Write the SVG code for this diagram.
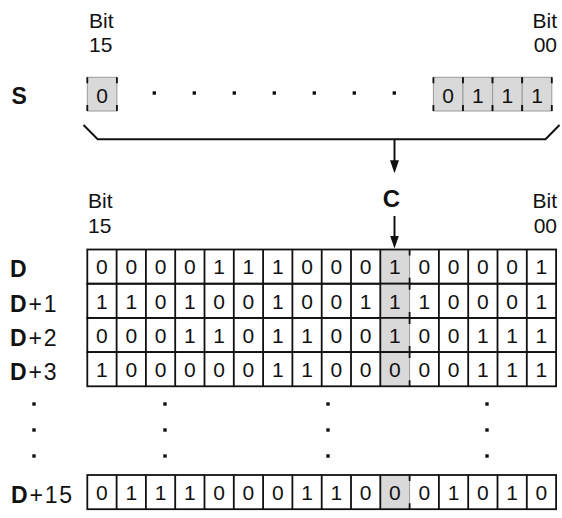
<svg xmlns="http://www.w3.org/2000/svg" xmlns:xlink="http://www.w3.org/1999/xlink" width="562" height="518" viewBox="0 0 562 518">
<style>
text{font-family:"Liberation Sans",Arial,sans-serif;fill:#111}
.bit{font-size:21px}
.dg{font-size:21px;text-anchor:middle}
.lbl{font-size:23px;letter-spacing:1.8px}
.b{font-weight:bold}
.ln{stroke:#111;stroke-width:1.8;fill:none}
.lt{stroke:#9a9a9a;stroke-width:1;fill:none}
.gr{fill:#d9d9d9}
.dot{fill:#111}
</style>
<defs>
<marker id="ah" markerUnits="userSpaceOnUse" markerWidth="13" markerHeight="9" viewBox="0 0 13 9" refX="3" refY="4.5" orient="auto">
<path d="M0,0L13,4.5L0,9z" fill="#111"/>
</marker>
<g id="rowgrid">
<rect class="gr" x="380.3" y="0" width="29.3" height="34.2"/>
<path class="lt" d="M409.6,0V34.2"/>
<path class="ln" d="M409.6,0v6M409.6,34.2v-6"/>
<path class="ln" d="M116.6,0V34.2M145.9,0V34.2M175.2,0V34.2M204.5,0V34.2M233.8,0V34.2M263.1,0V34.2M292.4,0V34.2M321.7,0V34.2M351,0V34.2M380.3,0V34.2M438.9,0V34.2M468.2,0V34.2M497.5,0V34.2M526.8,0V34.2"/>
<rect class="ln" x="87.3" y="0" width="468.8" height="34.2"/>
</g>
<g id="scell">
<rect class="gr" x="0" y="0" width="29.6" height="33.7"/>
<rect class="lt" x="0" y="0" width="29.6" height="33.7"/>
<path class="ln" d="M0,0v6M0,33.7v-6M29.6,0v6M29.6,33.7v-6"/>
</g>
</defs>

<g id="bit-labels-top">
<text class="bit" x="89" y="28.3">Bit</text>
<text class="bit" x="89" y="52.3">15</text>
<text class="bit" x="557" y="28.3" text-anchor="end">Bit</text>
<text class="bit" x="557" y="52.3" text-anchor="end">00</text>
</g>

<g id="S">
<text class="lbl b" x="11.5" y="104">S</text>
<use xlink:href="#scell" href="#scell" transform="translate(87.3,77.3)"/>
<text class="dg" x="102" y="102.5">0</text>
<rect class="dot" x="152.6" y="91.3" width="3.4" height="3.4"/>
<rect class="dot" x="192.6" y="91.3" width="3.4" height="3.4"/>
<rect class="dot" x="232.6" y="91.3" width="3.4" height="3.4"/>
<rect class="dot" x="272.6" y="91.3" width="3.4" height="3.4"/>
<rect class="dot" x="312.6" y="91.3" width="3.4" height="3.4"/>
<rect class="dot" x="352.6" y="91.3" width="3.4" height="3.4"/>
<rect class="dot" x="392.6" y="91.3" width="3.4" height="3.4"/>
<use xlink:href="#scell" href="#scell" transform="translate(433.4,77.3)"/>
<use xlink:href="#scell" href="#scell" transform="translate(463,77.3)"/>
<use xlink:href="#scell" href="#scell" transform="translate(492.6,77.3)"/>
<use xlink:href="#scell" href="#scell" transform="translate(522.2,77.3)"/>
<text class="dg" x="448.2" y="102.5">0</text>
<text class="dg" x="477.8" y="102.5">1</text>
<text class="dg" x="507.4" y="102.5">1</text>
<text class="dg" x="537" y="102.5">1</text>
</g>

<g id="connectors">
<polyline points="83.5,125 97.7,139.3 545.5,139.3 559.5,125" fill="none" stroke="#111" stroke-width="2"/>
<path d="M394.5,139.3V163.3" stroke="#111" stroke-width="2" marker-end="url(#ah)"/>
<path d="M394.5,216V238.5" stroke="#111" stroke-width="2" marker-end="url(#ah)"/>
</g>

<g id="C">
<text class="b" x="391.5" y="206.7" font-size="24" text-anchor="middle">C</text>
</g>

<g id="bit-labels-table">
<text class="bit" x="88" y="208">Bit</text>
<text class="bit" x="88" y="232.5">15</text>
<text class="bit" x="557" y="208" text-anchor="end">Bit</text>
<text class="bit" x="557" y="232.5" text-anchor="end">00</text>
</g>

<g id="row-D">
<use xlink:href="#rowgrid" href="#rowgrid" transform="translate(0,249.5)"/>
<text class="lbl b" x="10" y="277.3">D</text>
<text class="dg" y="274.3"><tspan x="101.95">0</tspan><tspan x="131.25">0</tspan><tspan x="160.55">0</tspan><tspan x="189.85">0</tspan><tspan x="219.15">1</tspan><tspan x="248.45">1</tspan><tspan x="277.75">1</tspan><tspan x="307.05">0</tspan><tspan x="336.35">0</tspan><tspan x="365.65">0</tspan><tspan x="394.95">1</tspan><tspan x="424.25">0</tspan><tspan x="453.55">0</tspan><tspan x="482.85">0</tspan><tspan x="512.15">0</tspan><tspan x="541.45">1</tspan></text>
</g>

<g id="row-D1">
<use xlink:href="#rowgrid" href="#rowgrid" transform="translate(0,283.7)"/>
<text class="lbl" x="10" y="311.5"><tspan class="b">D</tspan>+1</text>
<text class="dg" y="308.5"><tspan x="101.95">1</tspan><tspan x="131.25">1</tspan><tspan x="160.55">0</tspan><tspan x="189.85">1</tspan><tspan x="219.15">0</tspan><tspan x="248.45">0</tspan><tspan x="277.75">1</tspan><tspan x="307.05">0</tspan><tspan x="336.35">0</tspan><tspan x="365.65">1</tspan><tspan x="394.95">1</tspan><tspan x="424.25">1</tspan><tspan x="453.55">0</tspan><tspan x="482.85">0</tspan><tspan x="512.15">0</tspan><tspan x="541.45">1</tspan></text>
</g>

<g id="row-D2">
<use xlink:href="#rowgrid" href="#rowgrid" transform="translate(0,317.9)"/>
<text class="lbl" x="10" y="345.7"><tspan class="b">D</tspan>+2</text>
<text class="dg" y="342.7"><tspan x="101.95">0</tspan><tspan x="131.25">0</tspan><tspan x="160.55">0</tspan><tspan x="189.85">1</tspan><tspan x="219.15">1</tspan><tspan x="248.45">0</tspan><tspan x="277.75">1</tspan><tspan x="307.05">1</tspan><tspan x="336.35">0</tspan><tspan x="365.65">0</tspan><tspan x="394.95">1</tspan><tspan x="424.25">0</tspan><tspan x="453.55">0</tspan><tspan x="482.85">1</tspan><tspan x="512.15">1</tspan><tspan x="541.45">1</tspan></text>
</g>

<g id="row-D3">
<use xlink:href="#rowgrid" href="#rowgrid" transform="translate(0,352.1)"/>
<text class="lbl" x="10" y="379.9"><tspan class="b">D</tspan>+3</text>
<text class="dg" y="376.9"><tspan x="101.95">1</tspan><tspan x="131.25">0</tspan><tspan x="160.55">0</tspan><tspan x="189.85">0</tspan><tspan x="219.15">0</tspan><tspan x="248.45">0</tspan><tspan x="277.75">1</tspan><tspan x="307.05">1</tspan><tspan x="336.35">0</tspan><tspan x="365.65">0</tspan><tspan x="394.95">0</tspan><tspan x="424.25">0</tspan><tspan x="453.55">0</tspan><tspan x="482.85">1</tspan><tspan x="512.15">1</tspan><tspan x="541.45">1</tspan></text>
</g>

<g id="ellipsis">
<rect class="dot" x="32.3" y="402.3" width="3.4" height="3.4"/>
<rect class="dot" x="163.3" y="402.3" width="3.4" height="3.4"/>
<rect class="dot" x="326.3" y="402.3" width="3.4" height="3.4"/>
<rect class="dot" x="485.3" y="402.3" width="3.4" height="3.4"/>
<rect class="dot" x="32.3" y="428.3" width="3.4" height="3.4"/>
<rect class="dot" x="163.3" y="428.3" width="3.4" height="3.4"/>
<rect class="dot" x="326.3" y="428.3" width="3.4" height="3.4"/>
<rect class="dot" x="485.3" y="428.3" width="3.4" height="3.4"/>
<rect class="dot" x="32.3" y="454.3" width="3.4" height="3.4"/>
<rect class="dot" x="163.3" y="454.3" width="3.4" height="3.4"/>
<rect class="dot" x="326.3" y="454.3" width="3.4" height="3.4"/>
<rect class="dot" x="485.3" y="454.3" width="3.4" height="3.4"/>
</g>

<g id="row-D15">
<use xlink:href="#rowgrid" href="#rowgrid" transform="translate(0,475)"/>
<text class="lbl" x="11" y="502.8"><tspan class="b">D</tspan>+15</text>
<text class="dg" y="499.8"><tspan x="101.95">0</tspan><tspan x="131.25">1</tspan><tspan x="160.55">1</tspan><tspan x="189.85">1</tspan><tspan x="219.15">0</tspan><tspan x="248.45">0</tspan><tspan x="277.75">0</tspan><tspan x="307.05">1</tspan><tspan x="336.35">1</tspan><tspan x="365.65">0</tspan><tspan x="394.95">0</tspan><tspan x="424.25">0</tspan><tspan x="453.55">1</tspan><tspan x="482.85">0</tspan><tspan x="512.15">1</tspan><tspan x="541.45">0</tspan></text>
</g>
</svg>
